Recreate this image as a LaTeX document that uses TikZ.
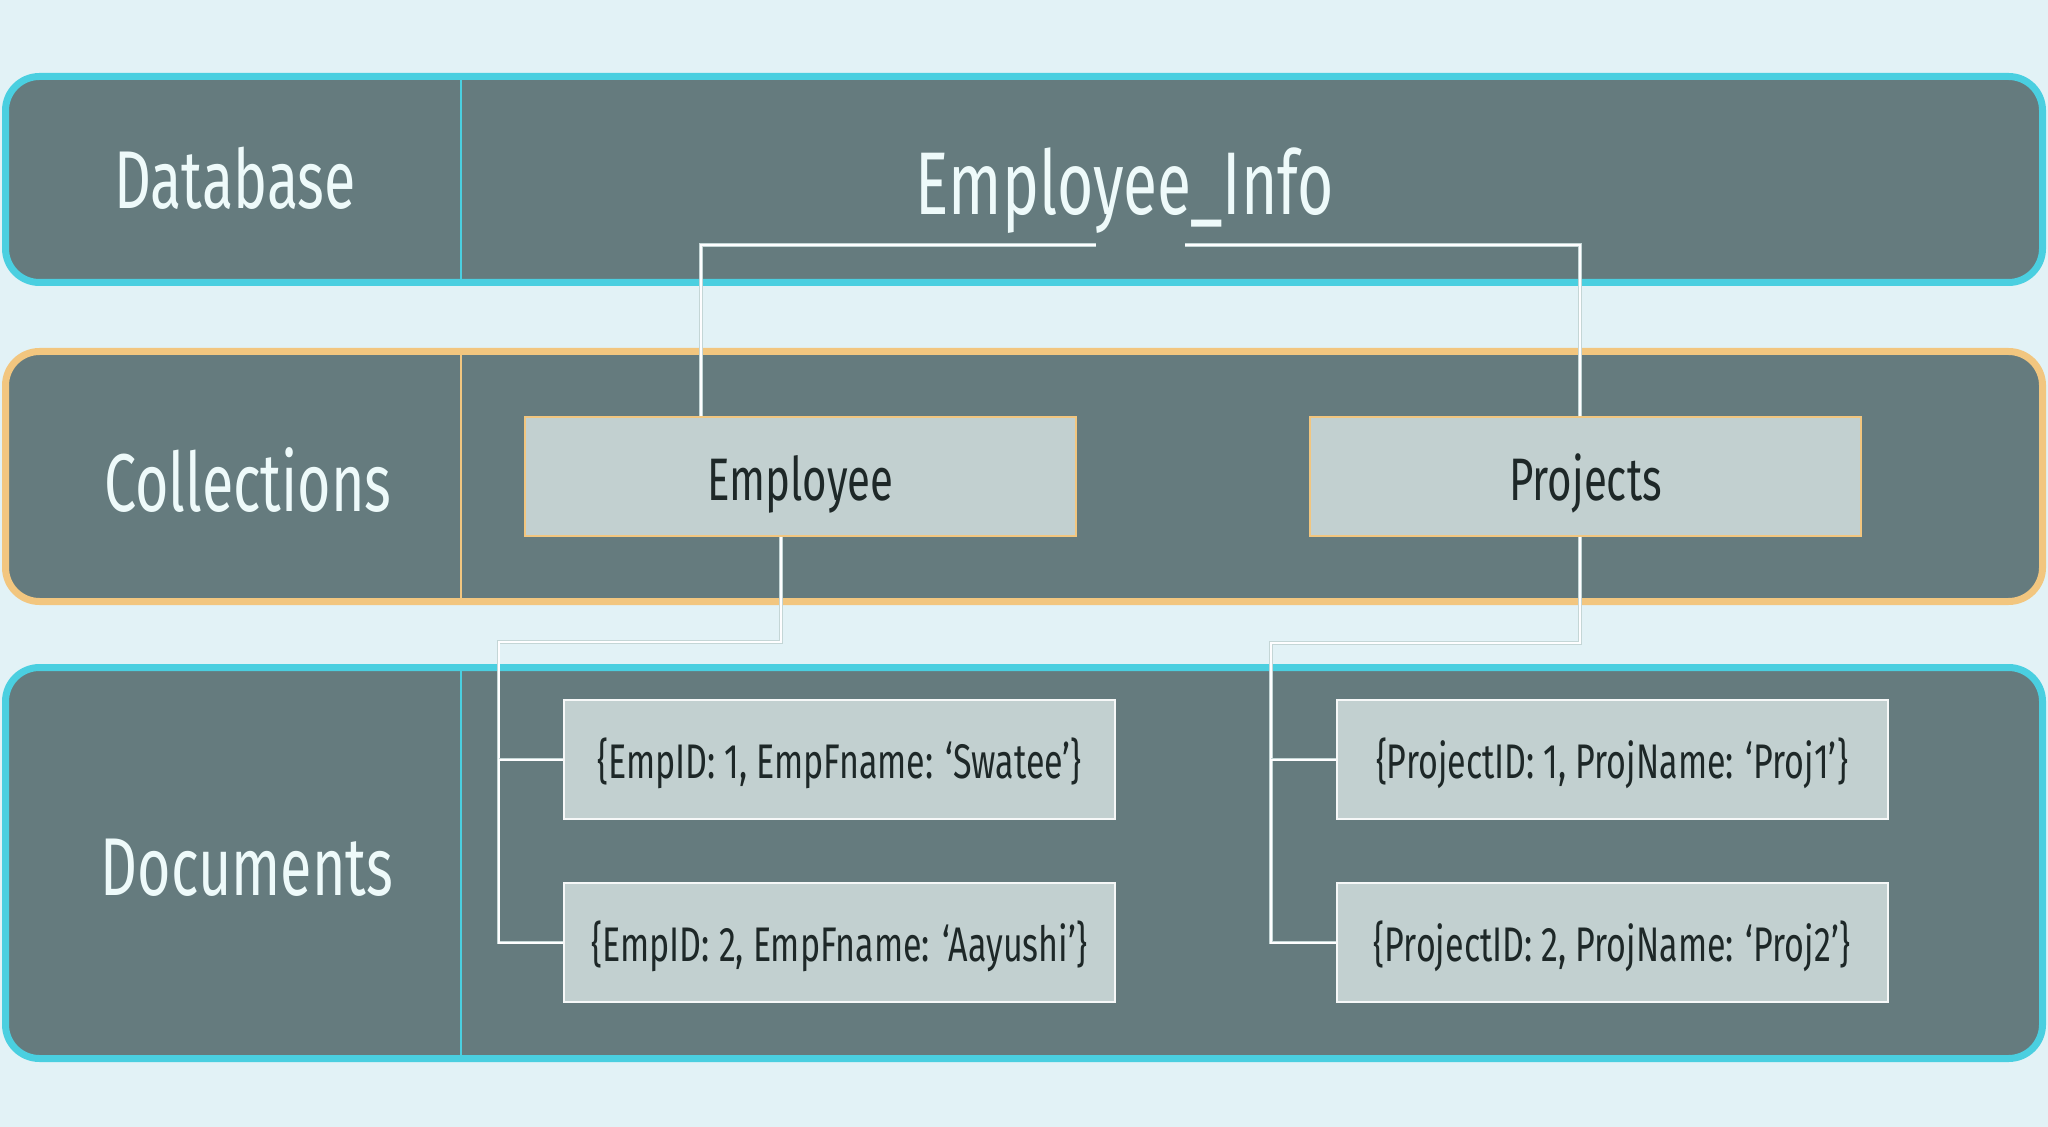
\documentclass[tikz,border=0pt]{standalone}
\usepackage{fontspec}
\setmainfont{Fira Sans}[FakeStretch=0.7]
\definecolor{bgc}{HTML}{E2F2F6}
\definecolor{bandfill}{HTML}{657B7E}
\definecolor{cyanb}{HTML}{4ACFE0}
\definecolor{orangeb}{HTML}{F2C67F}
\definecolor{boxfill}{HTML}{C2D0D0}
\definecolor{boxtext}{HTML}{1E2828}
\definecolor{lighttext}{HTML}{EEFAFA}
\definecolor{lineedge}{HTML}{C4D6D6}
\tikzset{
  band/.style={fill=bandfill, line width=3.5pt, rounded corners=17pt},
  divider/.style={line width=1pt},
  label/.style={text=lighttext, font=\fontsize{41}{46}\selectfont, inner sep=0pt},
  colbox/.style={fill=boxfill, draw=orangeb, line width=1pt, minimum width=275.5pt, minimum height=59.5pt, inner sep=0pt, text height=23.6pt, text depth=0pt, text=boxtext, font=\fontsize{30}{34}\selectfont},
  docbox/.style={fill=boxfill, draw=white!85!boxfill, line width=1pt, minimum width=275.5pt, minimum height=59.5pt, inner sep=0pt, text height=19.2pt, text depth=0pt, text=boxtext, font=\fontsize{24.3}{28}\selectfont},
  conn/.style={draw=lineedge, line width=0.3pt, double=white!95!bgc, double distance=1pt},
}
\begin{document}
\begin{tikzpicture}[x=0.5pt,y=-0.5pt]
\useasboundingbox (0,0) rectangle (2048,1127);
\fill[bgc] (0,0) rectangle (2048,1127);
% bands
\draw[band, draw=cyanb] (5.5,76.5) rectangle (2042.5,282.5);
\draw[band, draw=orangeb] (5.5,351.5) rectangle (2042.5,601.5);
\draw[band, draw=cyanb] (5.5,667.5) rectangle (2042.5,1058.5);
\draw[divider, cyanb] (461,80) -- (461,279);
\draw[divider, orangeb] (461,355) -- (461,598);
\draw[divider, cyanb] (461,671) -- (461,1055);
% labels
\node[label] (db) at (235,178) {Database};
\node[label, font=\fontsize{44.5}{50}\selectfont] (dbname) at (1125,191) {Employee\_Info};
\node[label] (coll) at (248,480) {Collections};
\node[label] (docs) at (247,868) {Documents};
% collection boxes
\node[colbox] (emp) at (800.5,476.5) {Employee};
\node[colbox] (pr) at (1585.5,476.5) {Projects};
% document boxes
\node[docbox] (ed1) at (839.5,759.5) {\{EmpID: 1, EmpFname: ‘Swatee’\}};
\node[docbox] (ed2) at (839.5,942.5) {\{EmpID: 2, EmpFname: ‘Aayushi’\}};
\node[docbox] (pd1) at (1612,759.5) {\{ProjectID: 1, ProjName: ‘Proj1’\}};
\node[docbox] (pd2) at (1612,942.5) {\{ProjectID: 2, ProjName: ‘Proj2’\}};
% connectors
\coordinate (ta) at (1096,245);
\coordinate (tl) at (701,245);
\coordinate (tb) at (1185,245);
\coordinate (tr) at (1580,245);
\draw[conn] (ta) -- (tl) -- (tl |- emp.north);
\draw[conn] (tb) -- (tr) -- (tr |- pr.north);
\coordinate (ej) at (781,642);
\coordinate (et) at (498.5,642);
\draw[conn] (emp.south -| ej) -- (ej) -- (et) |- (ed2.west);
\draw[conn] (et |- ed1.west) -- (ed1.west);
\coordinate (pj) at (1580,643);
\coordinate (pt) at (1271,643);
\draw[conn] (pr.south -| pj) -- (pj) -- (pt) |- (pd2.west);
\draw[conn] (pt |- pd1.west) -- (pd1.west);
\end{tikzpicture}
\end{document}
